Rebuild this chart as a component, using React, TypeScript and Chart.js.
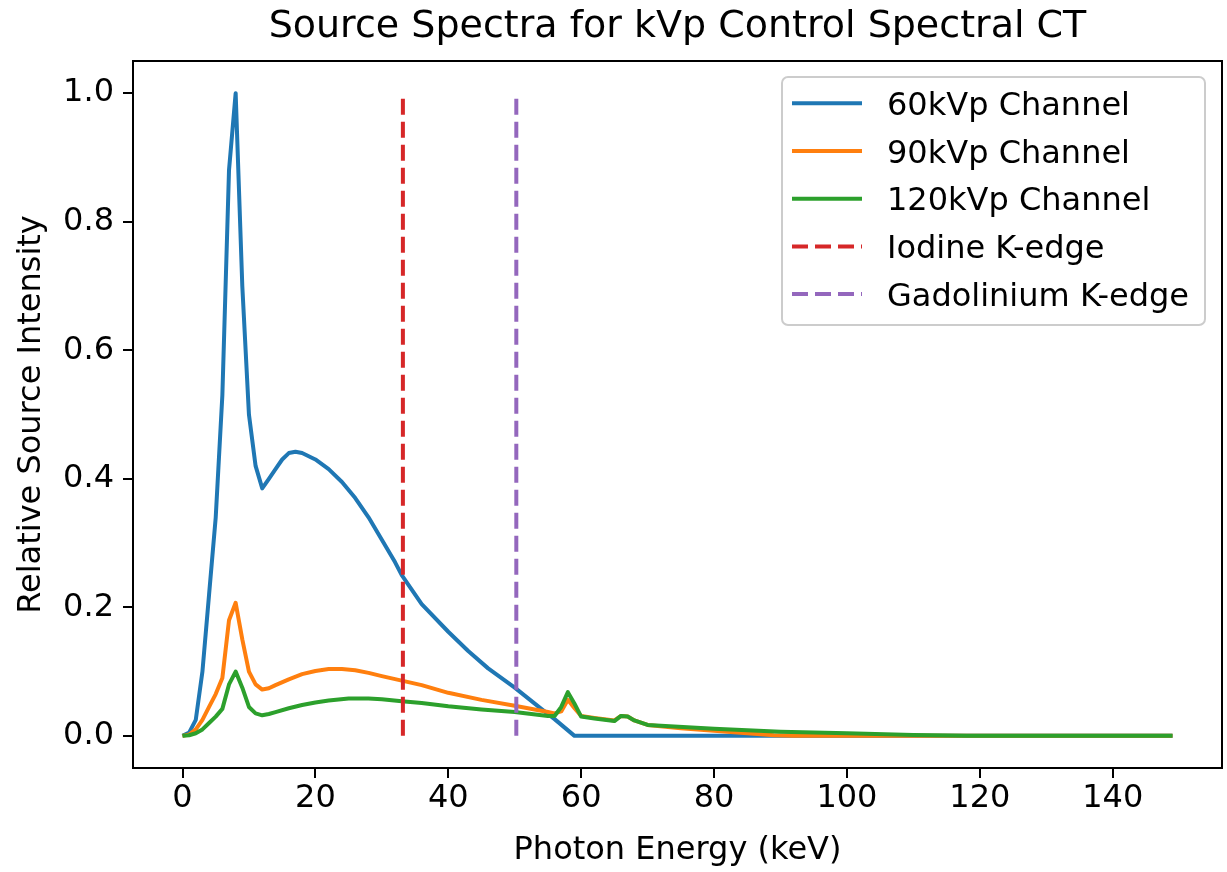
import React, { useEffect, useRef } from "react";
import { Chart, registerables } from "chart.js";

Chart.register(...registerables);

const titleText = "Source Spectra for kVp Control Spectral CT";
const xAxisLabel = "Photon Energy (keV)";
const yAxisLabel = "Relative Source Intensity";

const xTickValues = [0, 20, 40, 60, 80, 100, 120, 140];
const yTickValues = [0, 0.2, 0.4, 0.6, 0.8, 1.0];

const energy60 = [0, 1, 2, 3, 4, 5, 6, 7, 8, 9, 10, 11, 12, 13, 14, 15, 16, 17, 18, 20, 22, 24, 26, 28, 30, 32, 33, 36, 40, 43, 46, 50, 54, 56, 59, 149];
const intensity60 = [0, 0.005, 0.025, 0.1, 0.22, 0.34, 0.53, 0.88, 1.0, 0.7, 0.5, 0.42, 0.385, 0.4, 0.415, 0.43, 0.44, 0.442, 0.44, 0.43, 0.415, 0.395, 0.37, 0.34, 0.305, 0.27, 0.25, 0.205, 0.162, 0.132, 0.105, 0.075, 0.042, 0.026, 0, 0];

const energy90 = [0, 1, 2, 3, 4, 5, 6, 7, 8, 9, 10, 11, 12, 13, 14, 16, 18, 20, 22, 24, 26, 28, 30, 33, 36, 40, 45, 50, 55, 56, 57, 58, 59, 60, 62, 65, 66, 67, 68, 70, 75, 80, 85, 89, 92, 149];
const intensity90 = [0, 0.002, 0.01, 0.025, 0.045, 0.065, 0.09, 0.18, 0.207, 0.15, 0.1, 0.08, 0.072, 0.074, 0.079, 0.088, 0.096, 0.101, 0.104, 0.104, 0.102, 0.098, 0.093, 0.086, 0.079, 0.067, 0.056, 0.047, 0.037, 0.035, 0.038, 0.056, 0.043, 0.031, 0.028, 0.024, 0.031, 0.03, 0.024, 0.017, 0.012, 0.008, 0.004, 0.001, 0, 0];

const energy120 = [0, 1, 2, 3, 4, 5, 6, 7, 8, 9, 10, 11, 12, 13, 14, 16, 18, 20, 22, 25, 28, 30, 33, 36, 40, 45, 50, 55, 56, 57, 58, 59, 60, 62, 65, 66, 67, 68, 70, 80, 90, 100, 110, 118, 149];
const intensity120 = [0, 0.001, 0.004, 0.01, 0.02, 0.03, 0.042, 0.08, 0.1, 0.075, 0.045, 0.035, 0.032, 0.034, 0.037, 0.043, 0.048, 0.052, 0.055, 0.058, 0.058, 0.057, 0.054, 0.051, 0.046, 0.041, 0.037, 0.031, 0.031, 0.045, 0.068, 0.05, 0.03, 0.027, 0.023, 0.031, 0.03, 0.024, 0.017, 0.011, 0.0065, 0.004, 0.0015, 0, 0];

const iodineKEdge = 33.17;
const gadoliniumKEdge = 50.24;
const edgeSpan = [0, 1];

const seriesLabels = ["60kVp Channel", "90kVp Channel", "120kVp Channel", "Iodine K-edge", "Gadolinium K-edge"];
const seriesColors = ["#1f77b4", "#ff7f0e", "#2ca02c", "#d62728", "#9467bd"];
const seriesDashed = [false, false, false, true, true];

const FONT = '"DejaVu Sans", sans-serif';
const DASH = [16, 7];

function pts(xs: number[], ys: number[]) {
  return xs.map((x, i) => ({ x, y: ys[i] }));
}

const decorPlugin = {
  id: "decor",
  afterDraw(chart: any) {
    const { ctx, chartArea: a } = chart;
    ctx.save();
    // frame
    ctx.strokeStyle = "#000";
    ctx.lineWidth = 2;
    ctx.setLineDash([]);
    ctx.strokeRect(a.left, a.top, a.right - a.left, a.bottom - a.top);

    // title
    ctx.fillStyle = "#000";
    ctx.textAlign = "center";
    ctx.textBaseline = "alphabetic";
    ctx.font = `38px ${FONT}`;
    ctx.fillText(titleText, (a.left + a.right) / 2, 37);

    // axis labels
    ctx.font = `32px ${FONT}`;
    ctx.fillText(xAxisLabel, (a.left + a.right) / 2, 859);
    ctx.save();
    ctx.translate(39.5, (a.top + a.bottom) / 2);
    ctx.rotate(-Math.PI / 2);
    ctx.fillText(yAxisLabel, 0, 0);
    ctx.restore();

    // legend
    const bx = a.right - 17 - 423;
    const by = a.top + 16;
    const bw = 423;
    const bh = 248;
    ctx.beginPath();
    ctx.roundRect(bx, by, bw, bh, 6);
    ctx.fillStyle = "rgba(255,255,255,0.8)";
    ctx.fill();
    ctx.strokeStyle = "#cccccc";
    ctx.lineWidth = 2;
    ctx.stroke();
    ctx.textAlign = "left";
    for (let i = 0; i < seriesLabels.length; i++) {
      const ry = by + 26.3 + i * 47.7;
      ctx.beginPath();
      ctx.strokeStyle = seriesColors[i];
      ctx.lineWidth = 4;
      ctx.setLineDash(seriesDashed[i] ? DASH : []);
      ctx.moveTo(bx + 10, ry);
      ctx.lineTo(bx + 80, ry);
      ctx.stroke();
      ctx.setLineDash([]);
      ctx.fillStyle = "#000";
      ctx.font = `32px ${FONT}`;
      ctx.fillText(seriesLabels[i], bx + 105, ry + 11.7);
    }
    ctx.restore();
  },
};

export default function App() {
  const ref = useRef<HTMLCanvasElement | null>(null);
  useEffect(() => {
    if (!ref.current) return;
    const seriesData = [
      pts(energy60, intensity60),
      pts(energy90, intensity90),
      pts(energy120, intensity120),
      pts([iodineKEdge, iodineKEdge], edgeSpan),
      pts([gadoliniumKEdge, gadoliniumKEdge], edgeSpan),
    ];
    const chart = new Chart(ref.current, {
      type: "line",
      data: {
        datasets: seriesData.map((d, i) => ({
          label: seriesLabels[i],
          data: d,
          borderColor: seriesColors[i],
          backgroundColor: seriesColors[i],
          borderWidth: 4,
          borderDash: seriesDashed[i] ? DASH : [],
          pointRadius: 0,
          tension: 0,
          fill: false,
          order: seriesLabels.length - i,
          borderCapStyle: "butt",
          borderJoinStyle: "round",
        })),
      },
      options: {
        animation: false,
        responsive: false,
        devicePixelRatio: 1,
        layout: { padding: { left: 0, right: 5, top: 61, bottom: 0 } },
        plugins: {
          legend: { display: false },
          title: { display: false },
          tooltip: { enabled: false },
        },
        scales: {
          x: {
            type: "linear",
            min: -7.45,
            max: 156.45,
            afterBuildTicks: (s: any) => {
              s.ticks = xTickValues.map((v) => ({ value: v }));
            },
            afterFit: (s: any) => {
              s.height = 104;
            },
            grid: {
              display: true,
              drawOnChartArea: false,
              drawTicks: true,
              tickLength: 10,
              color: "#000",
              lineWidth: 2,
            },
            border: { display: false },
            ticks: {
              font: { family: FONT, size: 32 },
              color: "#000",
              padding: 1,
              maxRotation: 0,
              autoSkip: false,
              callback: (v: any) => String(v),
            },
          },
          y: {
            type: "linear",
            min: -0.05,
            max: 1.05,
            afterBuildTicks: (s: any) => {
              s.ticks = yTickValues.map((v) => ({ value: v }));
            },
            afterFit: (s: any) => {
              s.width = 133;
            },
            grid: {
              display: true,
              drawOnChartArea: false,
              drawTicks: true,
              tickLength: 10,
              color: "#000",
              lineWidth: 2,
            },
            border: { display: false },
            ticks: {
              font: { family: FONT, size: 32 },
              color: "#000",
              padding: 9,
              autoSkip: false,
              callback: (v: any) => Number(v).toFixed(1),
            },
          },
        },
      },
      plugins: [decorPlugin],
    });
    return () => chart.destroy();
  }, []);
  return (
    <div style={{ position: "fixed", left: 0, top: 0, width: 1227, height: 872, background: "#fff" }}>
      <canvas ref={ref} width={1227} height={872} style={{ width: 1227, height: 872, display: "block" }} />
    </div>
  );
}
